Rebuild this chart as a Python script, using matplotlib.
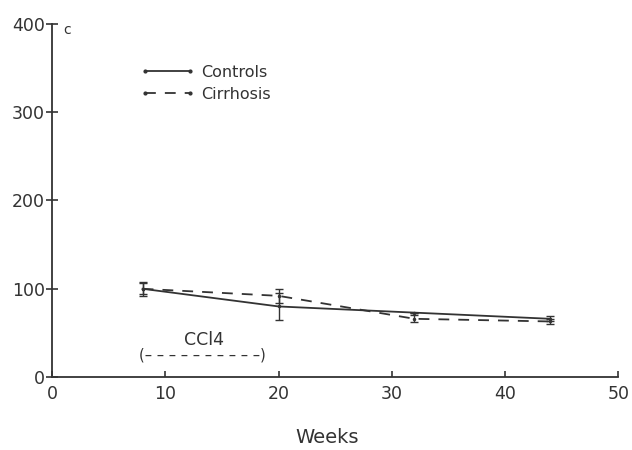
import matplotlib
matplotlib.use("Agg")
import matplotlib.pyplot as plt
from matplotlib.lines import Line2D

weeks = [8, 20, 32, 44]
controls = [100, 80, 73, 66]
controls_err = [8, 15, 0, 3]
cirrhosis = [100, 92, 66, 63]
cirrhosis_err = [6, 8, 4, 3]

xticks = [0, 10, 20, 30, 40, 50]
yticks = [0, 100, 200, 300, 400]

ink = "#333333"
plt.rcParams['font.family'] = ['DejaVu Sans']

fig = plt.figure(figsize=(6.32, 4.5), dpi=100)
ax = fig.add_axes([0.0823, 0.162, 0.896, 0.785])

dash = (0, (6, 5))
ax.errorbar(weeks, controls, yerr=controls_err, color=ink, lw=1.3,
            capsize=3, elinewidth=1.0, marker='.', ms=3)
ax.errorbar(weeks, cirrhosis, yerr=cirrhosis_err, color=ink, lw=1.3,
            ls=dash, capsize=3, elinewidth=1.0, marker='.', ms=3)

ax.set_xlim(0, 50)
ax.set_ylim(0, 400)
ax.set_xticks(xticks)
ax.set_yticks(yticks)
for s in ['top', 'right']:
    ax.spines[s].set_visible(False)
for s in ['left', 'bottom']:
    ax.spines[s].set_color(ink)
    ax.spines[s].set_linewidth(1.3)
ax.tick_params(axis='y', direction='inout', length=8, width=1.2, colors=ink,
               labelsize=12.5, pad=1)
ax.tick_params(axis='x', direction='in', length=4, width=1.2, colors=ink,
               labelsize=12.5, pad=6)
ax.set_xlabel('Weeks', fontsize=14, color=ink)
ax.xaxis.set_label_coords(0.486, -0.145)

ax.text(1.0, 393, 'c', fontsize=10, color=ink, va='center')
ax.text(13.4, 42, 'CCl4', fontsize=12.5, color=ink, ha='center', va='center')
ax.text(13.3, 25, '(' + ' '.join(['–'] * 10) + ')', fontsize=10.5, color=ink,
        ha='center', va='center')

handles = [
    Line2D([0], [0], color=ink, lw=1.3, marker='.', ms=4),
    Line2D([0], [0], color=ink, lw=1.3, ls=dash, marker='.', ms=4),
]
leg = ax.legend(handles, ['Controls', 'Cirrhosis'], loc='upper left',
                bbox_to_anchor=(0.13, 0.925), frameon=False, fontsize=11.5,
                handlelength=3.4, handletextpad=0.4, labelspacing=0.45,
                numpoints=2)
for t in leg.get_texts():
    t.set_color(ink)

fig.savefig('out.png', dpi=100, facecolor='white')
